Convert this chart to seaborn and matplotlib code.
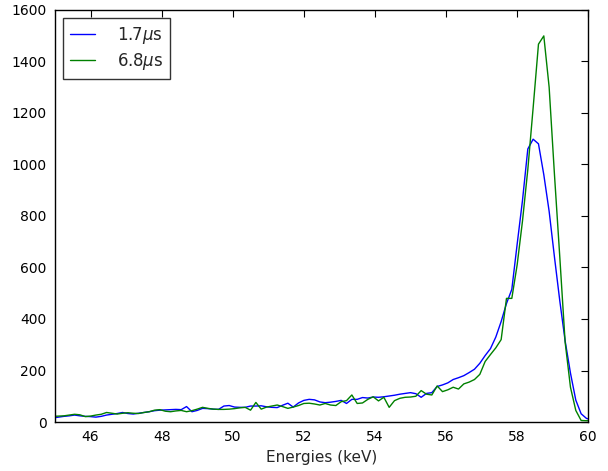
import matplotlib
matplotlib.use("Agg")
import matplotlib.pyplot as plt
import seaborn as sns
import pandas as pd
from matplotlib.lines import Line2D

energies = [
    44.95, 45.10, 45.25, 45.40, 45.55, 45.70, 45.85, 46.00, 46.15, 46.30,
    46.45, 46.60, 46.75, 46.90, 47.05, 47.20, 47.35, 47.50, 47.65, 47.80,
    47.95, 48.10, 48.25, 48.40, 48.55, 48.70, 48.85, 49.00, 49.15, 49.30,
    49.45, 49.60, 49.75, 49.90, 50.05, 50.20, 50.35, 50.50, 50.65, 50.80,
    50.95, 51.10, 51.25, 51.40, 51.55, 51.70, 51.85, 52.00, 52.15, 52.30,
    52.45, 52.60, 52.75, 52.90, 53.05, 53.20, 53.35, 53.50, 53.65, 53.80,
    53.95, 54.10, 54.25, 54.40, 54.55, 54.70, 54.85, 55.00, 55.15, 55.30,
    55.45, 55.60, 55.75, 55.90, 56.05, 56.20, 56.35, 56.50, 56.65, 56.80,
    56.95, 57.10, 57.25, 57.40, 57.55, 57.70, 57.85, 58.00, 58.15, 58.30,
    58.45, 58.60, 58.75, 58.90, 59.05, 59.20, 59.35, 59.50, 59.65, 59.80,
    59.95, 60.10,
]

counts_1p7 = [
    16, 19, 22, 24, 27, 24, 22, 21, 19, 22,
    27, 30, 33, 37, 33, 31, 34, 37, 40, 44,
    46, 47, 48, 49, 48, 60, 40, 45, 53, 52,
    50, 49, 62, 64, 58, 57, 57, 62, 62, 63,
    59, 57, 56, 65, 73, 58, 74, 84, 88, 86,
    78, 75, 77, 80, 84, 72, 88, 88, 95, 93,
    97, 96, 98, 101, 104, 108, 111, 114, 110, 96,
    111, 114, 138, 144, 152, 165, 172, 180, 192, 205,
    228, 258, 285, 330, 390, 460, 515, 690, 860, 1060,
    1098, 1080, 960, 818, 640, 470, 315, 190, 85, 32,
    14, 8,
]

counts_6p8 = [
    22, 23, 24, 27, 30, 28, 21, 23, 27, 30,
    37, 34, 31, 34, 36, 34, 33, 37, 40, 46,
    48, 42, 40, 43, 45, 40, 44, 50, 57, 53,
    50, 49, 49, 50, 52, 55, 57, 46, 76, 50,
    58, 62, 66, 60, 53, 58, 64, 72, 73, 70,
    66, 72, 66, 64, 79, 83, 105, 72, 74, 88,
    98, 82, 96, 57, 83, 92, 96, 97, 100, 122,
    108, 105, 140, 118, 125, 135, 128, 148, 155, 165,
    185, 235, 262, 288, 320, 480, 480, 610, 780, 980,
    1220, 1467, 1499, 1300, 960, 640, 310, 135, 45, 6,
    5, 5,
]

labels = [r"1.7$\mu$s", r"6.8$\mu$s"]
colors = ["#0000ff", "#008000"]
xticks = [46, 48, 50, 52, 54, 56, 58, 60]
yticks = [0, 200, 400, 600, 800, 1000, 1200, 1400, 1600]

df = pd.concat([
    pd.DataFrame({"energy": energies, "counts": counts_1p7, "series": labels[0]}),
    pd.DataFrame({"energy": energies, "counts": counts_6p8, "series": labels[1]}),
])

sns.set_style("white")
plt.rcParams["font.family"] = ["DejaVu Sans"]

fig = plt.figure(figsize=(6.08, 4.71), dpi=100)
ax = fig.add_axes([0.0905, 0.104, 0.877, 0.875])

sns.lineplot(data=df, x="energy", y="counts", hue="series",
             palette=dict(zip(labels, colors)), estimator=None,
             linewidth=1.0, ax=ax, legend=False)

ax.set_xlim(45, 60)
ax.set_ylim(0, 1600)
ax.set_xticks(xticks)
ax.set_yticks(yticks)
ax.tick_params(direction="in", top=True, right=True, length=5, width=0.8,
               labelsize=10, colors="black", pad=6)
for s in ax.spines.values():
    s.set_color("black")
    s.set_linewidth(1.0)
ax.set_xlabel("Energies (keV)", fontsize=11)
ax.set_ylabel("")

handles = [Line2D([0], [0], color=c, lw=1.0) for c in colors]
leg = ax.legend(handles, labels, loc="upper left", fontsize=12,
                frameon=True, fancybox=False, handlelength=1.5,
                handletextpad=1.3, borderaxespad=0.5, borderpad=0.4,
                labelspacing=0.3)
leg.get_frame().set_edgecolor("black")
leg.get_frame().set_linewidth(1.0)

fig.savefig("out.png", dpi=100)
